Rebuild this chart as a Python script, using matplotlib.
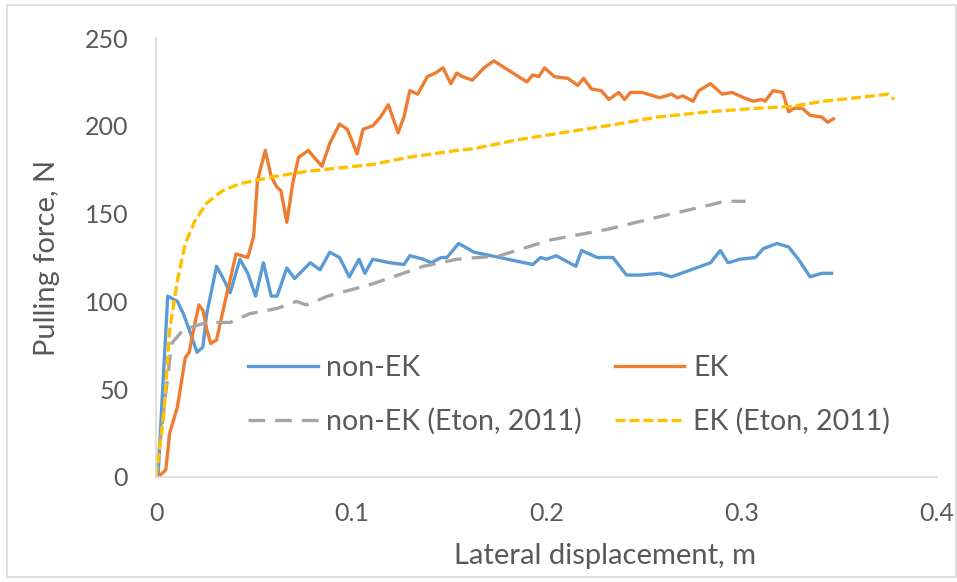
import numpy as np
import matplotlib
matplotlib.use("Agg")
import matplotlib.pyplot as plt
from matplotlib.patches import Rectangle

# non-EK (measured)
x_nonek = [0.001, 0.006, 0.011, 0.014, 0.017, 0.021, 0.024, 0.026, 0.031, 0.034, 0.038, 0.043,
           0.047, 0.051, 0.055, 0.059, 0.062, 0.067, 0.071, 0.079, 0.084, 0.089, 0.094, 0.099,
           0.104, 0.107, 0.111, 0.120, 0.127, 0.130, 0.137, 0.141, 0.146, 0.149, 0.155, 0.163,
           0.176, 0.193, 0.197, 0.200, 0.205, 0.215, 0.218, 0.226, 0.234, 0.241, 0.248, 0.258,
           0.264, 0.269, 0.279, 0.284, 0.289, 0.293, 0.299, 0.307, 0.311, 0.318, 0.324, 0.329,
           0.335, 0.341, 0.346]
y_nonek = [0, 103, 100, 93, 84, 71, 74, 93, 120, 114, 105, 124,
           116, 103, 122, 103, 103, 119, 113, 122, 118, 128, 125, 114,
           124, 116, 124, 122, 121, 126, 124, 122, 125, 125, 133, 128,
           125, 121, 125, 124, 126, 120, 129, 125, 125, 115, 115, 116,
           114, 116, 120, 122, 129, 122, 124, 125, 130, 133, 131, 124,
           114, 116, 116]

# EK (measured)
x_ek = [0.001, 0.005, 0.007, 0.011, 0.015, 0.017, 0.020, 0.022, 0.024, 0.026, 0.028, 0.031,
        0.036, 0.041, 0.047, 0.050, 0.052, 0.056, 0.059, 0.062, 0.064, 0.067, 0.070, 0.073,
        0.078, 0.081, 0.085, 0.089, 0.094, 0.098, 0.103, 0.106, 0.111, 0.115, 0.119, 0.124,
        0.127, 0.130, 0.134, 0.139, 0.143, 0.147, 0.151, 0.154, 0.157, 0.162, 0.168, 0.173,
        0.180, 0.190, 0.193, 0.196, 0.199, 0.204, 0.211, 0.216, 0.219, 0.223, 0.228, 0.232,
        0.237, 0.240, 0.243, 0.249, 0.258, 0.264, 0.267, 0.270, 0.275, 0.278, 0.284, 0.290,
        0.295, 0.301, 0.306, 0.310, 0.312, 0.316, 0.321, 0.324, 0.327, 0.331, 0.335, 0.341,
        0.344, 0.347]
y_ek = [0, 4, 25, 40, 68, 71, 88, 98, 95, 84, 76, 78,
        103, 127, 125, 137, 169, 186, 171, 165, 163, 145, 167, 182,
        186, 182, 177, 190, 201, 198, 184, 198, 200, 205, 212, 196,
        205, 220, 218, 228, 230, 233, 224, 230, 228, 226, 233, 237,
        232, 225, 229, 228, 233, 228, 227, 223, 227, 221, 220, 215,
        219, 215, 219, 219, 216, 218, 216, 217, 214, 220, 224, 218,
        219, 216, 214, 215, 214, 220, 219, 208, 210, 210, 206, 205,
        202, 204]

# non-EK (Eton, 2011)
x_nonek_eton = [0.0, 0.008, 0.014, 0.026, 0.038, 0.048, 0.062, 0.072, 0.077, 0.088, 0.111,
                0.137, 0.154, 0.176, 0.202, 0.231, 0.257, 0.284, 0.291, 0.302]
y_nonek_eton = [0, 76, 84, 88, 88, 93, 96, 100, 98, 103, 110,
                120, 124, 126, 135, 141, 148, 155, 157, 157]

# EK (Eton, 2011)
x_ek_eton = [0.0, 0.004, 0.007, 0.011, 0.015, 0.020, 0.026, 0.034, 0.043, 0.060, 0.077,
             0.094, 0.111, 0.129, 0.154, 0.163, 0.185, 0.202, 0.231, 0.257, 0.283, 0.308,
             0.325, 0.342, 0.359, 0.375, 0.378]
y_ek_eton = [0, 36, 84, 112, 133, 146, 156, 163, 167, 171, 174,
             176, 178, 182, 186, 187, 192, 195, 200, 205, 208, 210,
             211, 214, 216, 218, 215]

plt.rcParams['font.family'] = ['Lato', 'DejaVu Sans']
txt = '#595959'
W, H = 957, 582

fig = plt.figure(figsize=(9.57, 5.82), dpi=100)
# thin light frame round the chart
fig.patches.append(Rectangle((7 / W, 5 / H), 949 / W, 572 / H, transform=fig.transFigure,
                             fill=False, edgecolor='#d9d9d9', lw=1.2))
ax = fig.add_axes([156 / W, 1 - 477 / H, 781 / W, 439 / H])

l1, = ax.plot(x_nonek, y_nonek, color='#5B9BD5', lw=2.4, label='non-EK')
l2, = ax.plot(x_ek, y_ek, color='#ED7D31', lw=2.4, label='EK')
l3, = ax.plot(x_nonek_eton, y_nonek_eton, color='#A5A5A5', lw=2.4, dashes=(5, 3),
              label='non-EK (Eton, 2011)')
l4, = ax.plot(x_ek_eton, y_ek_eton, color='#FFC000', lw=2.4, dashes=(3, 1.2),
              label='EK (Eton, 2011)')

ax.set_xlim(0, 0.4)
ax.set_ylim(0, 250)
ax.set_xticks([0, 0.1, 0.2, 0.3, 0.4])
ax.set_xticklabels(['0', '0.1', '0.2', '0.3', '0.4'])
ax.set_yticks(range(0, 251, 50))
ax.tick_params(length=0, labelsize=18, colors=txt)
ax.tick_params(axis='x', pad=18)
ax.tick_params(axis='y', pad=20)
for s in ['top', 'right']:
    ax.spines[s].set_visible(False)
for s in ['left', 'bottom']:
    ax.spines[s].set_color('#d9d9d9')
    ax.spines[s].set_linewidth(1.2)

fig.text(605 / W, 1 - 556 / H, 'Lateral displacement, m', fontsize=21, color=txt,
         ha='center', va='center')
fig.text(47 / W, 1 - 258 / H, 'Pulling force, N', fontsize=21, color=txt,
         ha='center', va='center', rotation=90)

ax.legend(handles=[l1, l3, l2, l4], loc='upper left',
          bbox_to_anchor=((248 - 156) / 781, (477 - 355) / 439), ncol=2, frameon=False,
          fontsize=20.5, labelcolor=txt, handlelength=2.45, handletextpad=0.3,
          columnspacing=1.15, labelspacing=0.95, borderpad=0, borderaxespad=0)

fig.savefig('out.png', dpi=100)
